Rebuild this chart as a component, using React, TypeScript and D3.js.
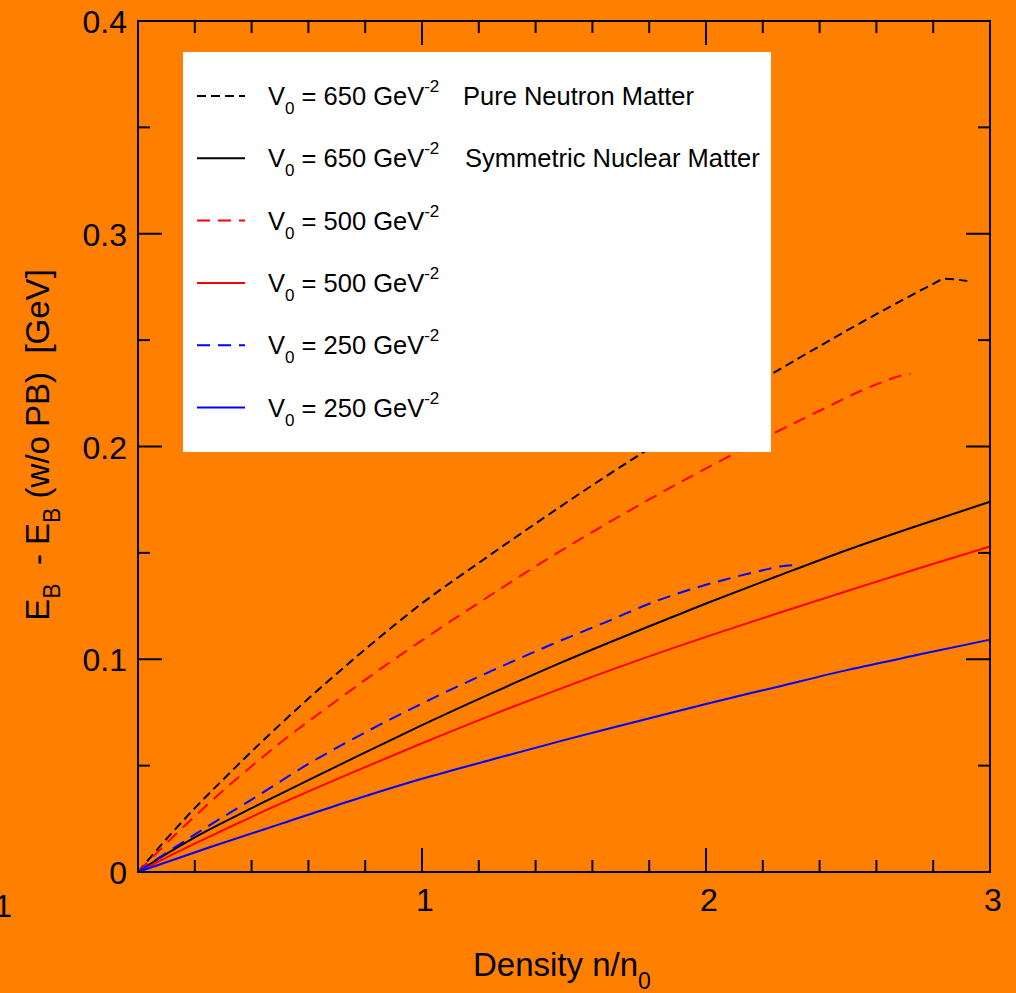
import * as d3 from "d3";
import { useEffect, useRef } from "react";

const width = 1016;
const height = 993;

// density n/n0 (x) vs E_B - E_B(w/o PB) in GeV (y)
const pnm650X = [0, 0.1, 0.2, 0.3, 0.45, 0.6, 0.75, 0.9, 1.0, 1.2, 1.4, 1.6, 1.8, 2.0, 2.2, 2.4, 2.6, 2.7, 2.8, 2.84, 2.92];
const pnm650Y = [0, 0.0155, 0.03, 0.0435, 0.063, 0.0815, 0.099, 0.1157, 0.1263, 0.1453, 0.1638, 0.1818, 0.199, 0.2156, 0.2316, 0.2472, 0.2622, 0.2694, 0.2764, 0.2788, 0.2778];

const snm650X = [0, 0.1, 0.2, 0.4, 0.6, 0.8, 1.0, 1.25, 1.5, 1.75, 2.0, 2.25, 2.5, 2.75, 3.0];
const snm650Y = [0, 0.0085, 0.0163, 0.03, 0.0432, 0.0562, 0.069, 0.0843, 0.099, 0.1128, 0.1262, 0.139, 0.1515, 0.163, 0.174];

const pnm500X = [0, 0.1, 0.2, 0.35, 0.5, 0.7, 0.85, 1.0, 1.2, 1.45, 1.8, 2.1, 2.4, 2.6, 2.7, 2.72];
const pnm500Y = [0, 0.0135, 0.0262, 0.0441, 0.0606, 0.0806, 0.0951, 0.1089, 0.1265, 0.1478, 0.1751, 0.1967, 0.2168, 0.2292, 0.2337, 0.2341];

const snm500X = [0, 0.1, 0.25, 0.5, 0.75, 1.0, 1.25, 1.5, 1.75, 2.0, 2.25, 2.5, 2.75, 3.0];
const snm500Y = [0, 0.0068, 0.0165, 0.032, 0.0465, 0.0605, 0.074, 0.0868, 0.099, 0.1105, 0.1215, 0.1322, 0.1428, 0.153];

const pnm250X = [0, 0.1, 0.25, 0.4, 0.6, 0.8, 1.0, 1.2, 1.45, 1.65, 1.8, 2.0, 2.1, 2.2, 2.28, 2.32];
const pnm250Y = [0, 0.009, 0.0218, 0.034, 0.0508, 0.0656, 0.0792, 0.0918, 0.1066, 0.1176, 0.1261, 0.135, 0.1386, 0.1418, 0.144, 0.1443];

const snm250X = [0, 0.25, 0.5, 0.75, 1.0, 1.25, 1.5, 1.75, 2.0, 2.25, 2.5, 2.75, 3.0];
const snm250Y = [0, 0.0115, 0.0225, 0.0335, 0.0438, 0.053, 0.062, 0.0705, 0.079, 0.087, 0.095, 0.1022, 0.1092];

const legendValues = ["650", "650", "500", "500", "250", "250"];
const legendNotes = ["Pure Neutron Matter", "Symmetric Nuclear Matter", "", "", "", ""];

const xMajorTicks = [1, 2, 3];
const yMajorTicks = [0, 0.1, 0.2, 0.3, 0.4];
const yTickLabels = ["0", "0.1", "0.2", "0.3", "0.4"];

const font = "'Liberation Sans', Arial, sans-serif";

const App = () => {
  const svgRef = useRef<SVGSVGElement>(null);

  useEffect(() => {
    const svg = d3.select(svgRef.current);
    svg.selectAll("*").remove();

    const margin = { top: 21, right: 26, bottom: 121, left: 138 };
    const innerW = width - margin.left - margin.right;
    const innerH = height - margin.top - margin.bottom;

    svg.append("rect").attr("width", width).attr("height", height).attr("fill", "#ff8000");

    const g = svg.append("g").attr("transform", `translate(${margin.left},${margin.top})`);

    const x = d3.scaleLinear().domain([0, 3]).range([0, innerW]);
    const y = d3.scaleLinear().domain([0, 0.4]).range([innerH, 0]);

    // series: [xs, ys, colour, dashed]
    const series: [number[], number[], string, string | null][] = [
      [pnm650X, pnm650Y, "#000", "9,5"],
      [snm650X, snm650Y, "#000", null],
      [pnm500X, pnm500Y, "#ff0000", "13,8"],
      [snm500X, snm500Y, "#ff0000", null],
      [pnm250X, pnm250Y, "#0000ff", "13,8"],
      [snm250X, snm250Y, "#0000ff", null],
    ];

    const line = d3
      .line<[number, number]>()
      .x((d) => x(d[0]))
      .y((d) => y(d[1]))
      .curve(d3.curveMonotoneX);

    series.forEach(([xs, ys, color, dash]) => {
      g.append("path")
        .datum(xs.map((v, i) => [v, ys[i]] as [number, number]))
        .attr("d", line)
        .attr("fill", "none")
        .attr("stroke", color)
        .attr("stroke-width", 2)
        .attr("stroke-dasharray", dash);
    });

    // ticks on all four sides
    const xMinor = d3.range(0.2, 3, 0.2).filter((v) => Math.abs(v - Math.round(v)) > 0.01);
    const yMinor = d3.range(0.05, 0.4, 0.1);
    const tick = (x1: number, y1: number, x2: number, y2: number) =>
      g.append("line").attr("x1", x1).attr("y1", y1).attr("x2", x2).attr("y2", y2)
        .attr("stroke", "#000").attr("stroke-width", 2);

    xMajorTicks.forEach((v) => {
      tick(x(v), innerH, x(v), innerH - 24);
      tick(x(v), 0, x(v), 24);
    });
    xMinor.forEach((v) => {
      tick(x(v), innerH, x(v), innerH - 12);
      tick(x(v), 0, x(v), 12);
    });
    yMajorTicks.forEach((v) => {
      tick(0, y(v), 24, y(v));
      tick(innerW, y(v), innerW - 24, y(v));
    });
    yMinor.forEach((v) => {
      tick(0, y(v), 12, y(v));
      tick(innerW, y(v), innerW - 12, y(v));
    });

    g.append("rect")
      .attr("width", innerW)
      .attr("height", innerH)
      .attr("fill", "none")
      .attr("stroke", "#000")
      .attr("stroke-width", 2);

    // tick labels
    g.selectAll(".ylab")
      .data(yMajorTicks)
      .enter()
      .append("text")
      .attr("x", -11)
      .attr("y", (d) => y(d) + 12)
      .attr("text-anchor", "end")
      .attr("font-size", 32)
      .attr("font-family", font)
      .text((d, i) => yTickLabels[i]);

    g.selectAll(".xlab")
      .data(xMajorTicks)
      .enter()
      .append("text")
      .attr("x", (d) => x(d) + 3)
      .attr("y", innerH + 39)
      .attr("text-anchor", "middle")
      .attr("font-size", 32)
      .attr("font-family", font)
      .text((d) => String(d));

    // stray label at far left
    svg.append("text")
      .attr("x", 12)
      .attr("y", 917)
      .attr("text-anchor", "end")
      .attr("font-size", 32)
      .attr("font-family", font)
      .text("1");

    // axis titles
    const xt = svg.append("text")
      .attr("x", 473)
      .attr("y", 976)
      .attr("font-size", 33)
      .attr("font-family", font);
    xt.append("tspan").text("Density n/n");
    xt.append("tspan").attr("dy", 13).attr("font-size", 23).text("0");

    const yt = svg.append("text")
      .attr("transform", "translate(49,445) rotate(-90)")
      .attr("text-anchor", "middle")
      .attr("font-size", 33)
      .attr("font-family", font)
      .style("white-space", "pre");
    yt.append("tspan").text("E");
    yt.append("tspan").attr("dy", 11).attr("font-size", 23).text("B");
    yt.append("tspan").attr("dy", -11).text("  - E");
    yt.append("tspan").attr("dy", 11).attr("font-size", 23).text("B");
    yt.append("tspan").attr("dy", -11).text(" (w/o PB)  [GeV]");

    // legend
    svg.append("rect")
      .attr("x", 183)
      .attr("y", 52)
      .attr("width", 588)
      .attr("height", 400)
      .attr("fill", "#fff");

    series.forEach(([, , color, dash], i) => {
      const ly = 96 + i * 62.3;
      svg.append("line")
        .attr("x1", 197)
        .attr("x2", 245)
        .attr("y1", ly)
        .attr("y2", ly)
        .attr("stroke", color)
        .attr("stroke-width", 2)
        .attr("stroke-dasharray", dash);
      const t = svg.append("text")
        .attr("x", 268)
        .attr("y", ly + 9)
        .attr("font-size", 25.5)
        .attr("font-family", font);
      t.append("tspan").text("V");
      t.append("tspan").attr("dy", 9).attr("font-size", 17).text("0");
      t.append("tspan").attr("dy", -9).text(` = ${legendValues[i]} GeV`);
      t.append("tspan").attr("dy", -13).attr("font-size", 17).text("-2");
      if (legendNotes[i]) {
        svg.append("text")
          .attr("x", i === 0 ? 463 : 465)
          .attr("y", ly + 9)
          .attr("font-size", 25.5)
          .attr("font-family", font)
          .text(legendNotes[i]);
      }
    });
  }, []);

  return (
    <svg
      ref={svgRef}
      width={width}
      height={height}
      style={{ position: "absolute", left: 0, top: 0 }}
    />
  );
};

export default App;
